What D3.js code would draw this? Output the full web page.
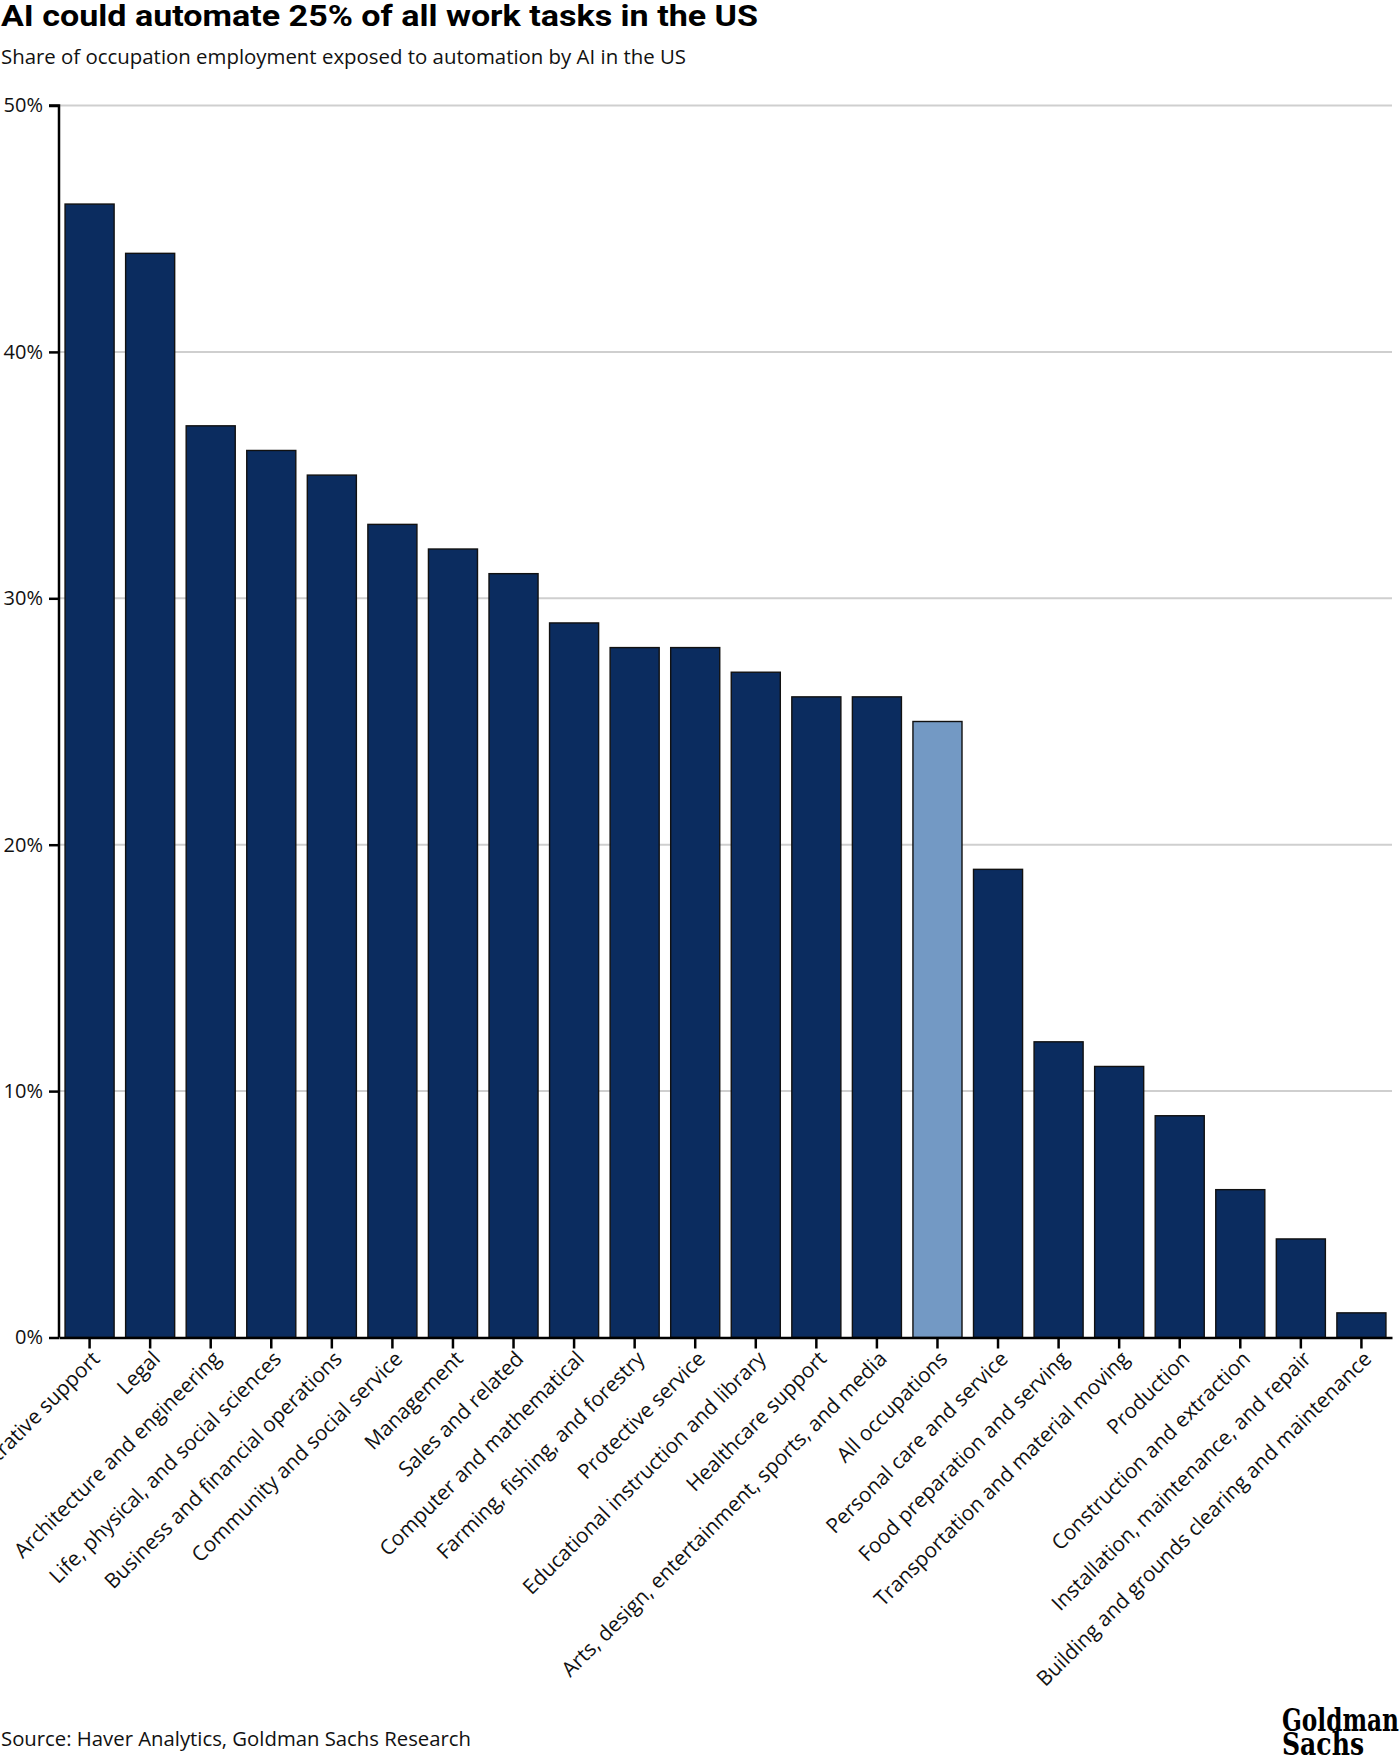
<!DOCTYPE html>
<html>
<head>
<meta charset="utf-8">
<script src="https://cdn.jsdelivr.net/npm/d3@7"></script>
<style>
  body { margin: 0; background: #fff; }
  svg { display: block; }
</style>
</head>
<body>
<div id="chart"></div>
<script>
// chart data
var categories = [
  "Administrative support", "Legal", "Architecture and engineering",
  "Life, physical, and social sciences", "Business and financial operations",
  "Community and social service", "Management", "Sales and related",
  "Computer and mathematical", "Farming, fishing, and forestry",
  "Protective service", "Educational instruction and library",
  "Healthcare support", "Arts, design, entertainment, sports, and media",
  "All occupations", "Personal care and service", "Food preparation and serving",
  "Transportation and material moving", "Production", "Construction and extraction",
  "Installation, maintenance, and repair", "Building and grounds clearing and maintenance"
];
var shares = [46, 44, 37, 36, 35, 33, 32, 31, 29, 28, 28, 27, 26, 26, 25, 19, 12, 11, 9, 6, 4, 1];
var highlighted = ["All occupations"];
var yTicks = [0, 10, 20, 30, 40, 50];

var width = 1400, height = 1759;
var margin = { left: 59, right: 1392, top: 105.5, bottom: 1337.5 };
var font = "'Open Sans', 'Noto Sans', sans-serif";

var svg = d3.select("#chart").append("svg")
  .attr("width", width)
  .attr("height", height);

// title, subtitle, source
svg.append("text")
  .attr("x", 1).attr("y", 26)
  .attr("font-family", "Roboto, 'Noto Sans', sans-serif")
  .attr("font-weight", 700)
  .attr("font-size", 30)
  .attr("textLength", 757)
  .attr("lengthAdjust", "spacingAndGlyphs")
  .attr("fill", "#000")
  .text("AI could automate 25% of all work tasks in the US");

svg.append("text")
  .attr("x", 1).attr("y", 64)
  .attr("font-family", font)
  .attr("font-size", 20)
  .attr("textLength", 685)
  .attr("lengthAdjust", "spacingAndGlyphs")
  .attr("fill", "#111")
  .text("Share of occupation employment exposed to automation by AI in the US");

svg.append("text")
  .attr("x", 1).attr("y", 1746)
  .attr("font-family", font)
  .attr("font-size", 20)
  .attr("textLength", 470)
  .attr("lengthAdjust", "spacingAndGlyphs")
  .attr("fill", "#111")
  .text("Source: Haver Analytics, Goldman Sachs Research");

var logo = svg.append("g")
  .attr("font-family", "'DejaVu Serif Condensed', 'Liberation Serif', serif")
  .attr("font-weight", 700)
  .attr("font-size", 31)
  .attr("fill", "#000");
logo.append("text").attr("x", 1282).attr("y", 1731)
  .attr("textLength", 117).attr("lengthAdjust", "spacingAndGlyphs").text("Goldman");
logo.append("text").attr("x", 1282).attr("y", 1755)
  .attr("textLength", 82).attr("lengthAdjust", "spacingAndGlyphs").text("Sachs");

var x = d3.scaleBand()
  .domain(categories)
  .range([margin.left, margin.right])
  .paddingInner(0.19)
  .paddingOuter(0.1);

var y = d3.scaleLinear()
  .domain([0, 50])
  .range([margin.bottom, margin.top]);

// gridlines
svg.append("g")
  .selectAll("line")
  .data(yTicks.filter(function (d) { return d > 0; }))
  .enter()
  .append("line")
  .attr("x1", margin.left).attr("x2", margin.right)
  .attr("y1", function (d) { return y(d); })
  .attr("y2", function (d) { return y(d); })
  .attr("stroke", "#cfcfcf")
  .attr("stroke-width", 2);

// bars
svg.append("g")
  .selectAll("rect")
  .data(categories)
  .enter()
  .append("rect")
  .attr("x", function (d) { return x(d); })
  .attr("y", function (d, i) { return y(shares[i]); })
  .attr("width", x.bandwidth())
  .attr("height", function (d, i) { return y(0) - y(shares[i]); })
  .attr("fill", function (d) { return highlighted.indexOf(d) >= 0 ? "#7399c4" : "#0b2c5f"; })
  .attr("stroke", "#111")
  .attr("stroke-width", 1.4);

// y axis
var yAxis = svg.append("g")
  .attr("transform", "translate(" + margin.left + ",0)")
  .call(d3.axisLeft(y)
    .tickValues(yTicks)
    .tickSize(10)
    .tickPadding(6)
    .tickFormat(function (d) { return d + "%"; }));
yAxis.select(".domain").attr("stroke", "#000").attr("stroke-width", 2.5)
  .attr("d", "M-10," + margin.top + "H0V" + margin.bottom);
yAxis.selectAll(".tick line").attr("stroke", "#000").attr("stroke-width", 2.5);
yAxis.selectAll(".tick text")
  .attr("font-family", font)
  .attr("font-size", 20)
  .attr("fill", "#111");

// x axis
var xAxis = svg.append("g")
  .attr("transform", "translate(0," + margin.bottom + ")")
  .call(d3.axisBottom(x).tickSize(11).tickSizeOuter(0).tickPadding(4));
xAxis.select(".domain").attr("stroke", "#000").attr("stroke-width", 2.5);
xAxis.selectAll(".tick line").attr("stroke", "#000").attr("stroke-width", 2.5);
xAxis.selectAll(".tick text")
  .attr("font-family", font)
  .attr("font-size", 20.8)
  .attr("fill", "#111")
  .attr("text-anchor", "end")
  .attr("dx", -8)
  .attr("dy", 9)
  .attr("transform", "rotate(-45)");
</script>
</body>
</html>
